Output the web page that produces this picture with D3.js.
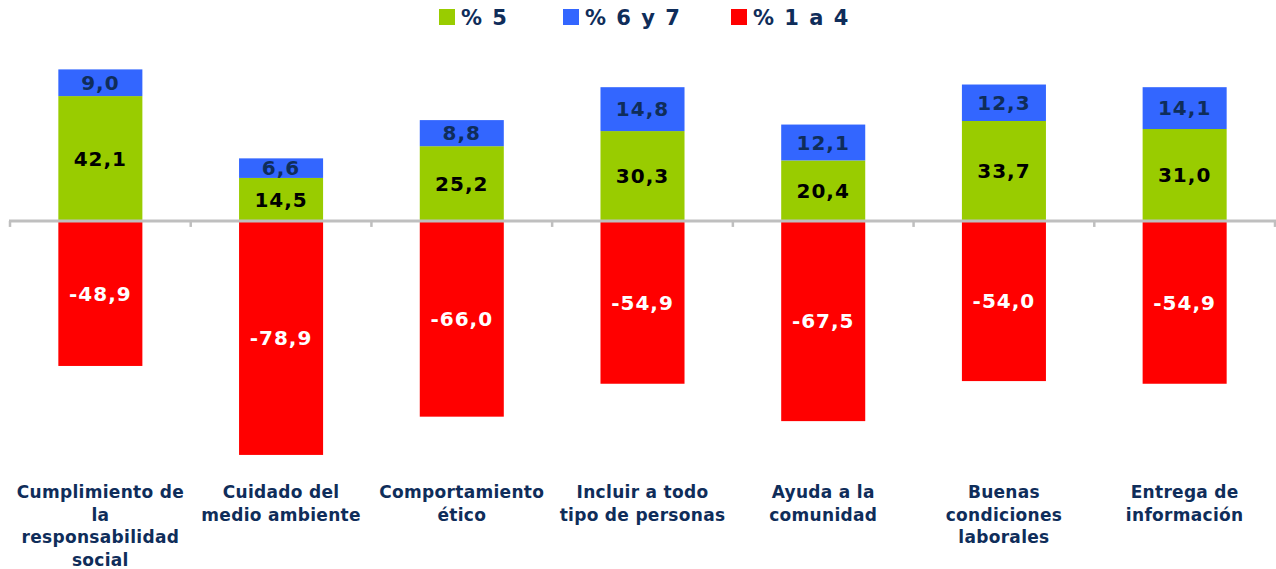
<!DOCTYPE html>
<html>
<head>
<meta charset="utf-8">
<script src="https://cdn.jsdelivr.net/npm/d3@7"></script>
<style>
  html, body { margin: 0; padding: 0; background: #fff; }
  svg { display: block; font-family: "DejaVu Sans", Verdana, sans-serif; font-weight: bold; }
</style>
</head>
<body>
<div id="chart"></div>
<script>
// Data
const categories = [
    ["Cumplimiento de", "la", "responsabilidad", "social"],
    ["Cuidado del", "medio ambiente"],
    ["Comportamiento", "ético"],
    ["Incluir a todo", "tipo de personas"],
    ["Ayuda a la", "comunidad"],
    ["Buenas", "condiciones", "laborales"],
    ["Entrega de", "información"]
];
const pct5 = [42.1, 14.5, 25.2, 30.3, 20.4, 33.7, 31.0];
const pct67 = [9.0, 6.6, 8.8, 14.8, 12.1, 12.3, 14.1];
const pct14 = [-48.9, -78.9, -66.0, -54.9, -67.5, -54.0, -54.9];

const seriesNames = ["% 5", "% 6 y 7", "% 1 a 4"];
const seriesKeys = ["p5", "p67", "p14"];

const width = 1276, height = 569;
const navy = "#0f2d5a";
const colors = { p5: "#99cc00", p67: "#3366ff", p14: "#ff0000" };
const labelColors = { p5: "#000000", p67: navy, p14: "#ffffff" };

const rows = categories.map((c, i) => ({ idx: i, p5: pct5[i], p67: pct67[i], p14: pct14[i] }));

const svg = d3.select("#chart").append("svg")
    .attr("width", width)
    .attr("height", height);

const x = d3.scaleBand()
    .domain(d3.range(categories.length))
    .range([10, 1275])
    .paddingInner(0.535)
    .paddingOuter(0.2675);

const y = d3.scaleLinear()
    .domain([-100, 60])
    .range([517.5, 43]);

const stack = d3.stack()
    .keys(seriesKeys)
    .offset(d3.stackOffsetDiverging);
const stacked = stack(rows);

const fmt = d3.formatLocale({ decimal: ",", thousands: ".", grouping: [3], currency: ["", ""], minus: "-" }).format(".1f");

// bars
const layer = svg.append("g").selectAll("g.layer")
    .data(stacked)
    .join("g")
    .attr("class", "layer")
    .attr("fill", d => colors[d.key]);

layer.selectAll("rect")
    .data(d => d.map(v => ({ key: d.key, v })))
    .join("rect")
    .attr("x", d => x(d.v.data.idx))
    .attr("width", x.bandwidth())
    .attr("y", d => y(d.v[1]))
    .attr("height", d => y(d.v[0]) - y(d.v[1]));

// axis line at zero with ticks between categories
const axis = svg.append("g");
axis.append("line")
    .attr("x1", 9).attr("x2", 1276)
    .attr("y1", y(0)).attr("y2", y(0))
    .attr("stroke", "#bfbfbf")
    .attr("stroke-width", 3);
const tickPos = d3.range(categories.length + 1).map(i => x.range()[0] + i * x.step());
axis.selectAll("line.tick")
    .data(tickPos)
    .join("line")
    .attr("class", "tick")
    .attr("x1", d => d).attr("x2", d => d)
    .attr("y1", y(0)).attr("y2", y(0) + 6)
    .attr("stroke", "#bfbfbf")
    .attr("stroke-width", 2.5);

// value labels
layer.selectAll("text")
    .data(d => d.map(v => ({ key: d.key, v })))
    .join("text")
    .attr("x", d => x(d.v.data.idx) + x.bandwidth() / 2)
    .attr("y", d => (y(d.v[0]) + y(d.v[1])) / 2)
    .attr("dy", "0.36em")
    .attr("text-anchor", "middle")
    .attr("font-size", 20)
    .attr("letter-spacing", 1)
    .attr("fill", d => labelColors[d.key])
    .text(d => fmt(d.v.data[d.key]));

// category labels
const catG = svg.append("g");
catG.selectAll("text")
    .data(categories)
    .join("text")
    .attr("text-anchor", "middle")
    .attr("font-size", 17)
    .attr("letter-spacing", 0.3)
    .attr("fill", navy)
    .attr("transform", (d, i) => `translate(${x(i) + x.bandwidth() / 2},498)`)
    .selectAll("tspan")
    .data(d => d)
    .join("tspan")
    .attr("x", 0)
    .attr("y", (d, i) => i * 22.5)
    .text(d => d);

// legend
const legendX = [439, 563, 731];
const legend = svg.append("g").selectAll("g")
    .data(seriesKeys)
    .join("g")
    .attr("transform", (d, i) => `translate(${legendX[i]},9)`);
legend.append("rect")
    .attr("width", 16).attr("height", 16)
    .attr("fill", d => colors[d]);
legend.append("text")
    .attr("x", 22)
    .attr("y", 8)
    .attr("dy", "0.36em")
    .attr("font-size", 21)
    .attr("letter-spacing", 1.5)
    .attr("fill", navy)
    .text((d, i) => seriesNames[i]);
</script>
</body>
</html>
